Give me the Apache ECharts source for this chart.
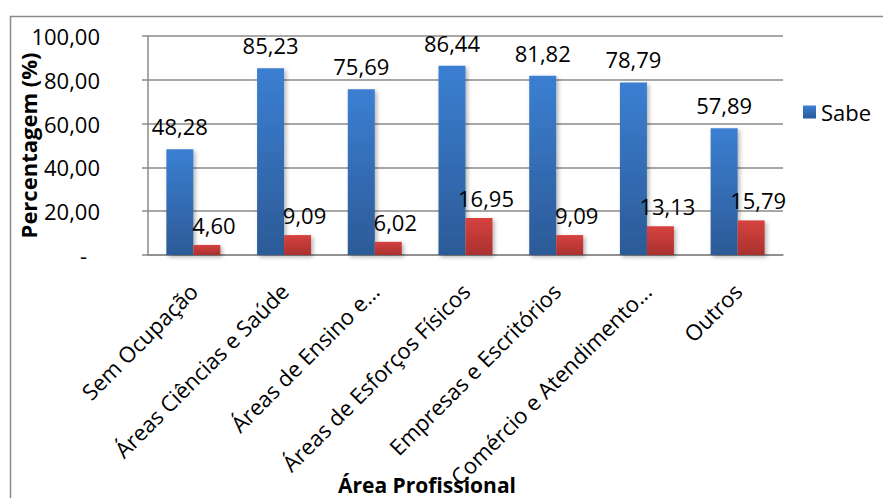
<!DOCTYPE html>
<html>
<head>
<meta charset="utf-8">
<script src="https://cdn.jsdelivr.net/npm/echarts@6/dist/echarts.min.js"></script>
<style>
  html, body { margin: 0; padding: 0; background: #ffffff; }
  #chart { width: 883px; height: 498px; }
</style>
</head>
<body>
<div id="chart"></div>
<script>
// Professional areas (x axis categories)
const categories = [
  'Sem Ocupação',
  'Áreas Ciências e Saúde',
  'Áreas de Ensino e...',
  'Áreas de Esforços Físicos',
  'Empresas e Escritórios',
  'Comércio e Atendimento...',
  'Outros'
];
// Percentage of respondents who know
const sabeValues = [48.28, 85.23, 75.69, 86.44, 81.82, 78.79, 57.89];
// Percentage of respondents who do not know
const naoSabeValues = [4.60, 9.09, 6.02, 16.95, 9.09, 13.13, 15.79];
// Y axis range / step
const yMin = 0, yMax = 100, yStep = 20;

const FONT = '"Open Sans"';
const fmt = v => Number(v).toFixed(2).replace('.', ',');

const chart = echarts.init(document.getElementById('chart'), null, { renderer: 'svg' });

const grad = (top, bottom) => new echarts.graphic.LinearGradient(0, 0, 0, 1, [
  { offset: 0, color: top },
  { offset: 1, color: bottom }
]);

chart.setOption({
  animation: false,
  backgroundColor: '#ffffff',
  textStyle: { fontFamily: FONT, color: '#000' },
  graphic: [
    {
      type: 'rect',
      left: 8, top: 14,
      shape: { width: 900, height: 500 },
      style: { fill: 'none', stroke: '#8a8a8a', lineWidth: 1.5 },
      silent: true
    },
    {
      type: 'text',
      x: 427, y: 485,
      style: {
        text: 'Área Profissional',
        font: 'bold 21px "Open Sans"',
        lineHeight: 20,
        fill: '#000',
        align: 'center',
        verticalAlign: 'middle'
      }
    }
  ],
  legend: {
    data: ['Sabe'],
    left: 798, top: 96,
    orient: 'vertical',
    itemWidth: 13, itemHeight: 13,
    itemGap: 6,
    icon: 'rect',
    textStyle: { fontFamily: FONT, fontSize: 22, color: '#000' }
  },
  grid: {
    left: 148, right: 100, top: 36, bottom: 243,
    containLabel: false,
    outerBoundsMode: 'none'
  },
  xAxis: {
    type: 'category',
    data: categories,
    axisLine: { lineStyle: { color: '#8a8a8a', width: 1.5 } },
    axisTick: { show: false },
    axisLabel: {
      rotate: 45,
      interval: 0,
      margin: 32,
      fontFamily: FONT,
      fontSize: 22,
      color: '#000'
    }
  },
  yAxis: {
    type: 'value',
    min: yMin, max: yMax, interval: yStep,
    name: 'Percentagem (%)',
    nameLocation: 'middle',
    nameGap: 109,
    nameMoveOverlap: false,
    nameRotate: 90,
    nameTextStyle: { fontFamily: FONT, fontSize: 22, fontWeight: 'bold', color: '#000' },
    axisLine: { show: true, lineStyle: { color: '#8a8a8a', width: 1.5 } },
    axisTick: { show: true, length: 6, lineStyle: { color: '#8a8a8a', width: 1.5 } },
    splitLine: { lineStyle: { color: '#8a8a8a', width: 1.5 } },
    axisLabel: {
      margin: 48,
      fontFamily: FONT,
      fontSize: 22,
      color: '#000',
      formatter: v => v === 0 ? '{d|-}' : fmt(v),
      rich: { d: { fontFamily: FONT, fontSize: 22, color: '#000', padding: [0, 13, 0, 0] } }
    }
  },
  series: [
    {
      name: 'Sabe',
      type: 'bar',
      data: sabeValues,
      barGap: '0%',
      barCategoryGap: '40.5%',
      itemStyle: {
        color: grad('#3b7fd2', '#2c5a97'),
        shadowBlur: 4, shadowColor: 'rgba(0,0,0,0.3)', shadowOffsetX: 2, shadowOffsetY: 2
      },
      label: {
        show: true,
        position: 'top',
        distance: 12,
        fontFamily: FONT, fontSize: 22, color: '#000',
        formatter: p => fmt(p.value)
      }
    },
    {
      name: 'Não sabe',
      type: 'bar',
      data: naoSabeValues,
      barGap: '0%',
      barCategoryGap: '40.5%',
      itemStyle: {
        color: grad('#d6423e', '#a9312f'),
        shadowBlur: 4, shadowColor: 'rgba(0,0,0,0.3)', shadowOffsetX: 2, shadowOffsetY: 2
      },
      label: {
        show: true,
        position: 'top',
        distance: 9,
        offset: [7, 0],
        fontFamily: FONT, fontSize: 22, color: '#000',
        formatter: p => fmt(p.value)
      }
    }
  ]
});
</script>
</body>
</html>
